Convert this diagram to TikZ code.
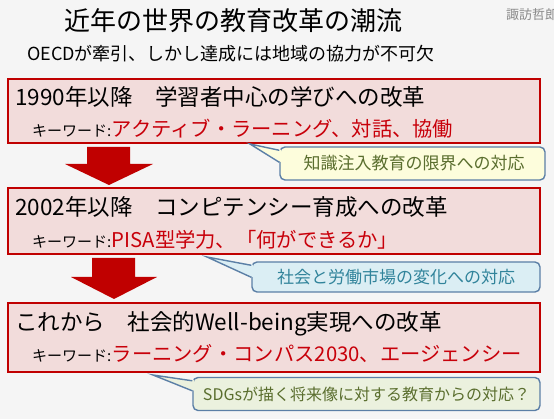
\documentclass[tikz,border=0pt]{standalone}
\usepackage{fontspec}
\setmainfont{Noto Sans CJK JP}
\usetikzlibrary{calc}
\definecolor{bgc}{HTML}{F5F5F5}
\definecolor{boxfill}{HTML}{F2DCDB}
\definecolor{boxline}{HTML}{C00000}
\definecolor{redtext}{HTML}{C8000A}
\definecolor{arrowred}{HTML}{C00000}
\definecolor{calline}{HTML}{5B7FA6}
\definecolor{yelfill}{HTML}{FDFDDC}
\definecolor{bluefill}{HTML}{DBEEF4}
\definecolor{greenfill}{HTML}{EBF1DE}
\definecolor{olive}{HTML}{5A6E2E}
\definecolor{teal}{HTML}{31849B}
\definecolor{namegrey}{HTML}{8A8A8A}
\begin{document}
\begin{tikzpicture}[x=1pt,y=-1pt,
  redbox/.style={draw=boxline,line width=2pt,fill=boxfill,inner sep=0pt,minimum width=532pt},
  headline/.style={anchor=base west,inner sep=0pt,font=\fontsize{22.5}{27}\selectfont},
  kwlabel/.style={anchor=base west,inner sep=0pt,font=\fontsize{15}{18}\selectfont},
  kwred/.style={anchor=base west,inner sep=0pt,text=redtext,font=\fontsize{20.3}{24}\selectfont},
  callbox/.style={draw=calline,line width=1.4pt,rounded corners=5pt,inner sep=0pt,font=\fontsize{17}{20}\selectfont},
  wedgeline/.style={draw=calline,line width=1.4pt,line join=miter},
  blockarrow/.style={fill=arrowred}
]
\useasboundingbox[fill=bgc] (0,0) rectangle (554,419);

% titles
\node[font=\fontsize{26}{30}\selectfont,inner sep=0pt] (title) at (233,21) {近年の世界の教育改革の潮流};
\node[font=\fontsize{18}{21}\selectfont,inner sep=0pt] (sub) at (231,54) {OECDが牽引、しかし達成には地域の協力が不可欠};
\node[font=\fontsize{13}{15}\selectfont,text=namegrey,anchor=base west,inner sep=0pt] (name) at (506,20) {諏訪哲郎};

% boxes
\node[redbox,minimum height=64pt] (b1) at (274,111) {};
\node[redbox,minimum height=66pt] (b2) at (274,221) {};
\node[redbox,minimum height=69pt] (b3) at (274,338) {};

% box 1 text
\node[headline] (h1) at (15,106) {1990年以降　学習者中心の学びへの改革};
\node[kwlabel] (k1) at (32,137) {キーワード:};
\node[kwred] (r1) at (k1.base east) {アクティブ・ラーニング、対話、協働};

% box 2 text
\node[headline] (h2) at (15,216) {2002年以降　コンピテンシー育成への改革};
\node[kwlabel] (k2) at (32,248) {キーワード:};
\node[kwred] (r2) at (k2.base east) {PISA型学力、「何ができるか」};

% box 3 text
\node[headline] (h3) at (15,331) {これから　社会的Well-being実現への改革};
\node[kwlabel] (k3) at (32,362) {キーワード:};
\node[kwred] (r3) at (k3.base east) {ラーニング・コンパス2030、エージェンシー};

% arrows
\fill[blockarrow] (87,147) -- (130,147) -- (130,164) -- (153,164) -- (109,185) -- (65,164) -- (87,164) -- cycle;
\fill[blockarrow] (92,258) -- (135,258) -- (135,277) -- (157,277) -- (114,299) -- (71,277) -- (92,277) -- cycle;

% callouts
\node[callbox,fill=yelfill,text=olive,minimum width=265pt,minimum height=33pt] (c1) at (412.5,163.5) {\hspace*{3pt}知識注入教育の限界への対応};
\node[callbox,fill=bluefill,text=teal,minimum width=288pt,minimum height=30pt] (c2) at (396,277) {社会と労働市場の変化への対応};
\node[callbox,fill=greenfill,text=olive,minimum width=347pt,minimum height=33pt,font=\fontsize{16}{19}\selectfont] (c3) at (366.5,394) {SDGsが描く将来像に対する教育からの対応？};

% pointers
\coordinate (p1) at (250,144);
\coordinate (p2) at (207,257);
\coordinate (p3) at (153,375);
\fill[yelfill] ($(c1.north west)+(2,3.5)$) -- (p1) -- ($(c1.north west)+(2,16)$) -- cycle;
\draw[wedgeline] ($(c1.north west)+(0,4)$) -- (p1) -- ($(c1.north west)+(0,16)$);
\fill[bluefill] ($(c2.north west)+(2,3.5)$) -- (p2) -- ($(c2.north west)+(2,16)$) -- cycle;
\draw[wedgeline] ($(c2.north west)+(0,4)$) -- (p2) -- ($(c2.north west)+(0,16)$);
\fill[greenfill] ($(c3.north west)+(2,3.5)$) -- (p3) -- ($(c3.north west)+(2,14)$) -- cycle;
\draw[wedgeline] ($(c3.north west)+(0,4)$) -- (p3) -- ($(c3.north west)+(0,14)$);
\end{tikzpicture}
\end{document}
